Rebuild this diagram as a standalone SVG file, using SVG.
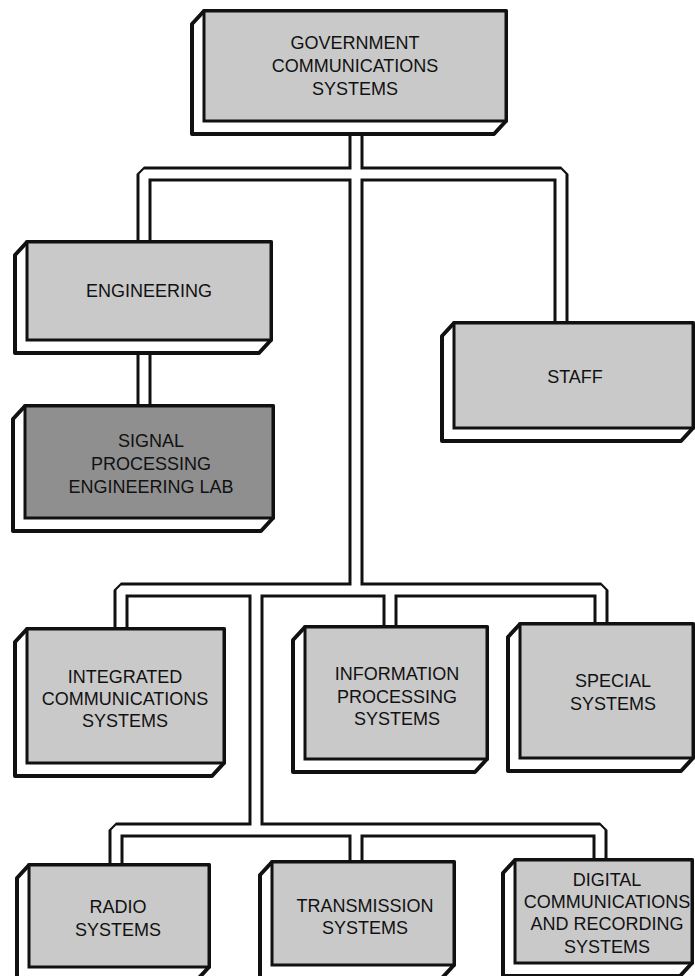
<svg xmlns="http://www.w3.org/2000/svg" width="695" height="976" viewBox="0 0 695 976">
<style>
.pipeOut{fill:none;stroke:#111;stroke-width:15;stroke-linejoin:bevel;stroke-linecap:butt}
.pipeIn{fill:none;stroke:#fff;stroke-width:9;stroke-linejoin:bevel;stroke-linecap:butt}
.slab{fill:#fff;stroke:#111;stroke-width:4;stroke-linejoin:round}
.face{fill:#c9c9c9;stroke:#111;stroke-width:3}
.dark{fill:#8f8f8f}
text{font-family:"Liberation Sans",Arial,Helvetica,sans-serif;font-size:18px;fill:#111;text-anchor:middle}
</style>
<rect width="695" height="976" fill="#fff"/>
<g id="connectors">
<path class="pipeOut" d="M356,126 V590 M144,246 V174 H561 V327 M144,345 V410 M121,632 V590 H601 V628 M390,590 V630 M256,590 V830 M116,869 V830 H600 V864 M356,830 V866"/>
<path class="pipeIn" d="M356,126 V590 M144,246 V174 H561 V327 M144,345 V410 M121,632 V590 H601 V628 M390,590 V630 M256,590 V830 M116,869 V830 H600 V864 M356,830 V866"/>
</g>
<g id="gov">
<polygon class="slab" points="204,11 506,11 506,121 494,134 192,134 192,24"/>
<rect class="face" x="204" y="11" width="302" height="110"/>
<text x="355" y="49">GOVERNMENT</text>
<text x="355" y="72">COMMUNICATIONS</text>
<text x="355" y="95">SYSTEMS</text>
</g>
<g id="engineering">
<polygon class="slab" points="27,242 271,242 271,340 259,353 15,353 15,255"/>
<rect class="face" x="27" y="242" width="244" height="98"/>
<text x="149" y="297">ENGINEERING</text>
</g>
<g id="signal">
<polygon class="slab" points="25,406 273,406 273,518 261,531 13,531 13,419"/>
<rect class="face dark" x="25" y="406" width="248" height="112"/>
<text x="151" y="447">SIGNAL</text>
<text x="151" y="470">PROCESSING</text>
<text x="151" y="493">ENGINEERING LAB</text>
</g>
<g id="staff">
<polygon class="slab" points="454,323 693,323 693,428 681,441 442,441 442,336"/>
<rect class="face" x="454" y="323" width="239" height="105"/>
<text x="575" y="383">STAFF</text>
</g>
<g id="integrated">
<polygon class="slab" points="27,629 224,629 224,763 212,776 15,776 15,642"/>
<rect class="face" x="27" y="629" width="197" height="134"/>
<text x="125" y="683">INTEGRATED</text>
<text x="125" y="705">COMMUNICATIONS</text>
<text x="125" y="727">SYSTEMS</text>
</g>
<g id="information">
<polygon class="slab" points="305,627 487,627 487,759 475,772 293,772 293,640"/>
<rect class="face" x="305" y="627" width="182" height="132"/>
<text x="397" y="680">INFORMATION</text>
<text x="397" y="703">PROCESSING</text>
<text x="397" y="725">SYSTEMS</text>
</g>
<g id="special">
<polygon class="slab" points="520,624 693,624 693,758 681,771 508,771 508,637"/>
<rect class="face" x="520" y="624" width="173" height="134"/>
<text x="613" y="687">SPECIAL</text>
<text x="613" y="710">SYSTEMS</text>
</g>
<g id="radio">
<polygon class="slab" points="29,865 209,865 209,967 197,980 17,980 17,878"/>
<rect class="face" x="29" y="865" width="180" height="102"/>
<text x="118" y="913">RADIO</text>
<text x="118" y="936">SYSTEMS</text>
</g>
<g id="transmission">
<polygon class="slab" points="272,862 454,862 454,965 442,978 260,978 260,875"/>
<rect class="face" x="272" y="862" width="182" height="103"/>
<text x="365" y="912">TRANSMISSION</text>
<text x="365" y="934">SYSTEMS</text>
</g>
<g id="digital">
<polygon class="slab" points="515,860 692,860 692,963 680,976 503,976 503,873"/>
<rect class="face" x="515" y="860" width="177" height="103"/>
<text x="607" y="886">DIGITAL</text>
<text x="607" y="908">COMMUNICATIONS</text>
<text x="607" y="930">AND RECORDING</text>
<text x="607" y="953">SYSTEMS</text>
</g>
</svg>
